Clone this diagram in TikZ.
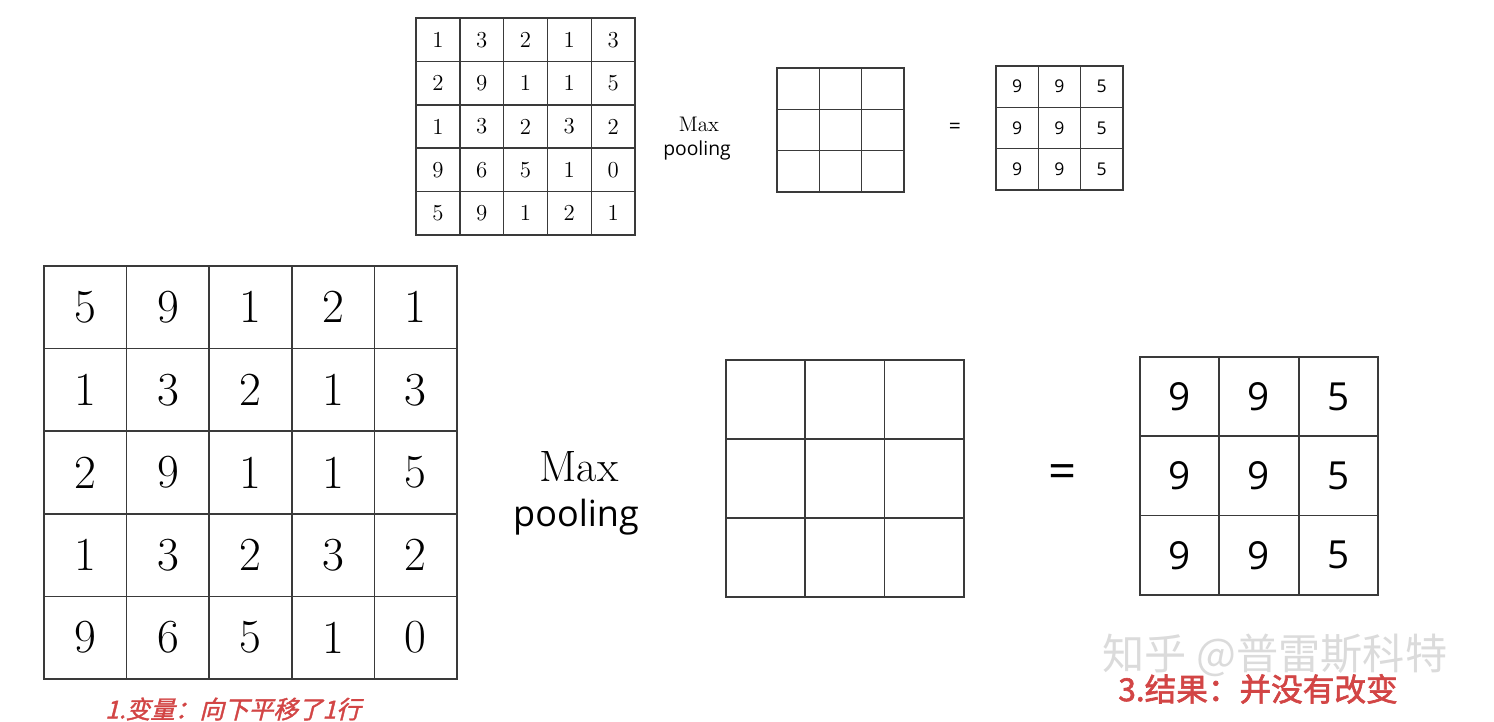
\documentclass[tikz,border=0pt]{standalone}
\usepackage{fontspec}
\newfontfamily\poolfont{Open Sans}
\newfontfamily\cjknote[FakeSlant=0.25,FakeBold=1.5]{Noto Sans CJK SC}
\newfontfamily\cjkbold[FakeBold=2]{Noto Sans CJK SC}
\newfontfamily\cjkmark{Noto Sans CJK SC}
\usetikzlibrary{positioning}

\definecolor{gridgray}{HTML}{3A3A3A}
\definecolor{notered}{HTML}{D24545}

\tikzset{
    cell/.style={draw=gridgray, line width=0.8pt, inner sep=0pt, anchor=center},
    smallcell/.style={cell, minimum width=0.876cm, minimum height=0.868cm, font=\fontsize{13}{13}\selectfont},
    bigcell/.style={cell, line width=1pt, minimum width=1.652cm, minimum height=1.652cm, font=\fontsize{27}{27}\selectfont},
    poolsmall/.style={cell, minimum width=0.846cm, minimum height=0.826cm, font=\poolfont\fontsize{10}{10}\selectfont},
    poolbig/.style={cell, line width=1pt, minimum width=1.586cm, minimum height=1.586cm, font=\poolfont\fontsize{22}{22}\selectfont},
}

\begin{document}
\begin{tikzpicture}[x=0.02cm, y=-0.02cm]
    \useasboundingbox (0,0) rectangle (1494,722);

    % top: 5x5 input
    \foreach \row [count=\r] in {{1,3,2,1,3},{2,9,1,1,5},{1,3,2,3,2},{9,6,5,1,0},{5,9,1,2,1}}
        \foreach \v [count=\c] in \row
            \node[smallcell] (s-\r-\c) at ({416+43.8*(\c-0.5)},{18+43.4*(\r-0.5)}) {\v};

    \node[font=\fontsize{12}{12}\selectfont] (smax) at (699,124) {Max};
    \node[font=\poolfont\fontsize{11}{11}\selectfont] (spool) at (697,150) {pooling};

    % top: empty 3x3 window and result
    \foreach \r in {1,2,3}
        \foreach \c in {1,2,3}
            \node[poolsmall] (sw-\r-\c) at ({777+42.3*(\c-0.5)},{68+41.3*(\r-0.5)}) {};
    \node[font=\poolfont\fontsize{12}{12}\selectfont] (seq) at (955,128) {=};
    \foreach \row [count=\r] in {{9,9,5},{9,9,5},{9,9,5}}
        \foreach \v [count=\c] in \row
            \node[poolsmall] (sr-\r-\c) at ({996+42.3*(\c-0.5)},{66+41.3*(\r-0.5)}) {\v};

    % bottom: shifted 5x5 input
    \foreach \row [count=\r] in {{5,9,1,2,1},{1,3,2,1,3},{2,9,1,1,5},{1,3,2,3,2},{9,6,5,1,0}}
        \foreach \v [count=\c] in \row
            \node[bigcell] (b-\r-\c) at ({44+82.6*(\c-0.5)},{266+82.6*(\r-0.5)}) {\v};

    \node[font=\fontsize{25}{25}\selectfont] (bmax) at (579,467) {Max};
    \node[font=\poolfont\fontsize{20.5}{20.5}\selectfont] (bpool) at (576,517) {pooling};

    % bottom: empty 3x3 window and result
    \foreach \r in {1,2,3}
        \foreach \c in {1,2,3}
            \node[poolbig] (bw-\r-\c) at ({726+79.3*(\c-0.5)},{360+79*(\r-0.5)}) {};
    \node[font=\poolfont\fontsize{28}{28}\selectfont] (beq) at (1063,477) {=};
    \foreach \row [count=\r] in {{9,9,5},{9,9,5},{9,9,5}}
        \foreach \v [count=\c] in \row
            \node[poolbig] (br-\r-\c) at ({1140+79.3*(\c-0.5)},{357+79.3*(\r-0.5)}) {\v};

    % notes
    \node[text=notered, font=\cjknote\fontsize{14}{14}\selectfont] (note1) at (233,709) {1.变量：向下平移了1行};
    \node[text=gray!35, opacity=0.8, font=\cjkmark\fontsize{24}{24}\selectfont] (mark) at (1275,655) {知乎 @普雷斯科特};
    \node[text=notered, font=\cjkbold\fontsize{18}{18}\selectfont] (note3) at (1258,689) {3.结果：并没有改变};
\end{tikzpicture}
\end{document}
